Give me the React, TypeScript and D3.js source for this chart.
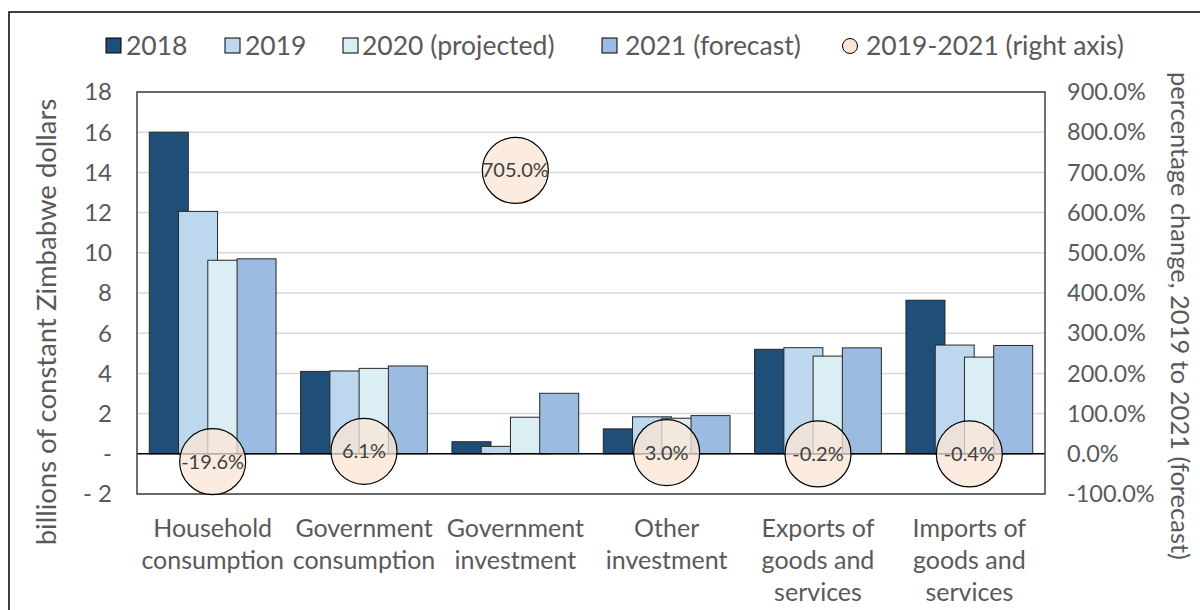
import React from 'react';
import * as d3 from 'd3';

// category labels (one entry per line)
const categoryLines = [
  ['Household', 'consumption'],
  ['Government', 'consumption'],
  ['Government', 'investment'],
  ['Other', 'investment'],
  ['Exports of', 'goods and', 'services'],
  ['Imports of', 'goods and', 'services'],
];
const seriesNames = ['2018', '2019', '2020 (projected)', '2021 (forecast)'];
const values2018 = [16.0, 4.1, 0.6, 1.24, 5.2, 7.64];
const values2019 = [12.06, 4.12, 0.37, 1.84, 5.28, 5.41];
const values2020 = [9.63, 4.25, 1.82, 1.77, 4.86, 4.81];
const values2021 = [9.7, 4.37, 3.01, 1.9, 5.27, 5.39];
const changePct = [-19.6, 6.1, 705.0, 3.0, -0.2, -0.4];
const leftTicks = [-2, 0, 2, 4, 6, 8, 10, 12, 14, 16, 18];
const rightTicks = [-100, 0, 100, 200, 300, 400, 500, 600, 700, 800, 900];

const COLORS = ['#1F4E79', '#BDD7EE', '#DAEEF3', '#9BBBE0'];
const CIRCLE_FILL = '#FBE5D6';
const TEXT = '#595959';
const FONT = 'Lato, "Open Sans", sans-serif';

export default function App() {
  const width = 1200;
  const height = 610;
  const plot = { left: 137, right: 1045, top: 92, bottom: 494 };

  const keys = categoryLines.map(l => l.join(' '));
  const series = [values2018, values2019, values2020, values2021];

  const x = d3.scaleBand<string>().domain(keys).range([plot.left, plot.right]);
  const y = d3.scaleLinear().domain([-2, 18]).range([plot.bottom, plot.top]);
  const yR = d3.scaleLinear().domain([-100, 900]).range([plot.bottom, plot.top]);

  // overlapping bars, Excel style (overlap 25%)
  const barW = x.bandwidth() / 3.88;
  const step = barW * 0.75;
  const groupW = step * 3 + barW;

  const fmtLeft = (d: number) => (d === 0 ? '-' : d < 0 ? `- ${Math.abs(d)}` : `${d}`);
  // plain hyphen for negatives, like the source
  const fmtPct = (d: number) => `${d < 0 ? '-' : ''}${Math.abs(d).toFixed(1)}%`;

  const legendItems = [
    { sx: 106, tx: 126, label: seriesNames[0], color: COLORS[0] },
    { sx: 225, tx: 245, label: seriesNames[1], color: COLORS[1] },
    { sx: 343, tx: 362, label: seriesNames[2], color: COLORS[2] },
    { sx: 602, tx: 625, label: seriesNames[3], color: COLORS[3] },
  ];

  return (
    <svg
      width={width}
      height={height}
      style={{ position: 'absolute', left: 0, top: 0, background: '#fff' }}
      fontFamily={FONT}
    >
      {/* chart border */}
      <rect x={9} y={12} width={1300} height={700} fill="none" stroke="#000" strokeWidth={1.5} />

      {/* legend */}
      <g>
        {legendItems.map(item => (
          <g key={item.label}>
            <rect x={item.sx} y={38} width={15} height={15} fill={item.color} stroke="#000" strokeWidth={1} />
            <text x={item.tx} y={46} dy="0.35em" fontSize={26.5} fill={TEXT}>{item.label}</text>
          </g>
        ))}
        <circle cx={850} cy={46} r={7.5} fill={CIRCLE_FILL} stroke="#000" strokeWidth={1} />
        <text x={866} y={46} dy="0.35em" fontSize={26.5} fill={TEXT}>2019-2021 (right axis)</text>
      </g>

      {/* gridlines */}
      {leftTicks.filter(t => t !== 0).map(t => (
        <line key={t} x1={plot.left} x2={plot.right} y1={y(t)} y2={y(t)} stroke="#D9D9D9" strokeWidth={1.5} />
      ))}

      {/* bars */}
      {series.map((vals, si) => (
        <g key={si}>
          {vals.map((v, ci) => {
            const cx = (x(keys[ci]) as number) + x.bandwidth() / 2;
            const bx = cx - groupW / 2 + si * step;
            return (
              <rect
                key={ci}
                x={bx}
                y={y(Math.max(0, v))}
                width={barW}
                height={Math.abs(y(v) - y(0))}
                fill={COLORS[si]}
                stroke="#262626"
                strokeWidth={1}
              />
            );
          })}
        </g>
      ))}

      {/* zero line */}
      <line x1={plot.left} x2={plot.right} y1={y(0)} y2={y(0)} stroke="#000" strokeWidth={1.5} />

      {/* plot area box */}
      <rect
        x={plot.left}
        y={plot.top}
        width={plot.right - plot.left}
        height={plot.bottom - plot.top}
        fill="none"
        stroke="#404040"
        strokeWidth={1.5}
      />

      {/* percentage change bubbles */}
      {changePct.map((p, ci) => {
        const cx = (x(keys[ci]) as number) + x.bandwidth() / 2;
        return (
          <g key={ci}>
            <circle cx={cx} cy={yR(p)} r={33} fill={CIRCLE_FILL} fillOpacity={0.75} stroke="#000" strokeWidth={1.2} />
            <text x={cx} y={yR(p)} dy="0.35em" textAnchor="middle" fontSize={20} fill="#404040">
              {fmtPct(p)}
            </text>
          </g>
        );
      })}

      {/* left axis labels */}
      {leftTicks.map(t => (
        <text key={t} x={112} y={y(t)} dy="0.35em" textAnchor="end" fontSize={24} fill={TEXT}>
          {fmtLeft(t)}
        </text>
      ))}

      {/* right axis labels */}
      {rightTicks.map(t => (
        <text key={t} x={1067} y={yR(t)} dy="0.35em" textAnchor="start" fontSize={23.5} fill={TEXT}>
          {fmtPct(t)}
        </text>
      ))}

      {/* category labels */}
      {categoryLines.map((lines, ci) => {
        const cx = (x(keys[ci]) as number) + x.bandwidth() / 2;
        return (
          <text key={ci} textAnchor="middle" fontSize={25} fill={TEXT}>
            {lines.map((line, li) => (
              <tspan key={li} x={cx} y={528 + li * 32} dy="0.35em">{line}</tspan>
            ))}
          </text>
        );
      })}

      {/* axis titles */}
      <text
        transform={`translate(46,322) rotate(-90)`}
        textAnchor="middle"
        dy="0.35em"
        fontSize={27.5}
        fill={TEXT}
      >
        billions of constant Zimbabwe dollars
      </text>
      <text
        transform={`translate(1180,316) rotate(90)`}
        textAnchor="middle"
        dy="0.35em"
        fontSize={25.5}
        fill={TEXT}
      >
        percentage change, 2019 to 2021 (forecast)
      </text>
    </svg>
  );
}
